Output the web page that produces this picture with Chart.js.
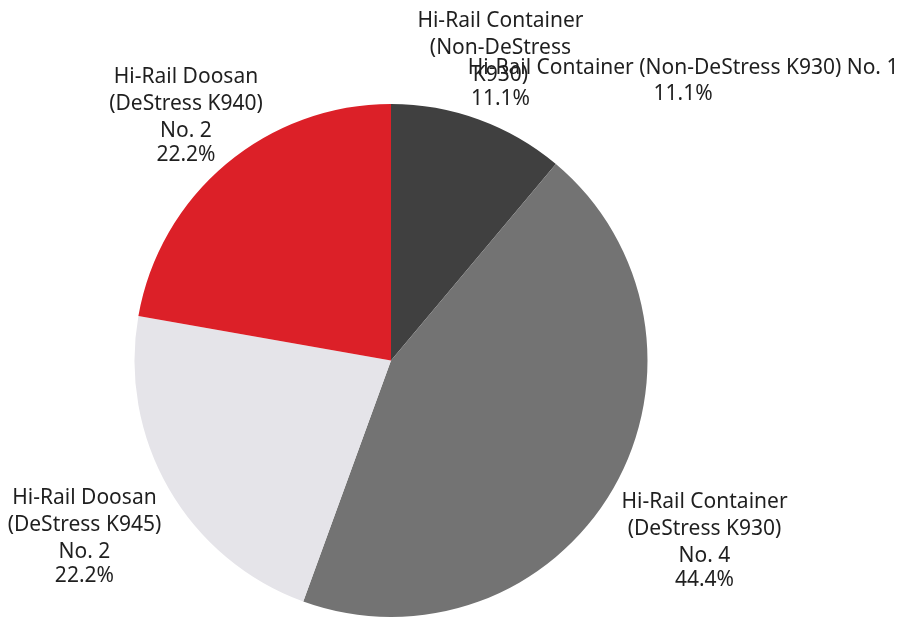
<!DOCTYPE html>
<html>
<head>
<meta charset="utf-8">
<script src="https://cdn.jsdelivr.net/npm/chart.js@4.4.1/dist/chart.umd.min.js"></script>
<style>
  html, body { margin: 0; padding: 0; background: #fff; }
  #wrap { width: 899px; height: 617px; }
</style>
</head>
<body>
<div id="wrap"><canvas id="pie"></canvas></div>
<script>
// data
const categories = [
  'Hi-Rail Container (Non-DeStress K930)',
  'Hi-Rail Container (DeStress K930)',
  'Hi-Rail Doosan (DeStress K945)',
  'Hi-Rail Doosan (DeStress K940)'
];
const counts = [1, 4, 2, 2];
// wrapped name lines as shown on the chart
const nameLines = [
  ['Hi-Rail Container', '(Non-DeStress', 'K930)'],
  ['Hi-Rail Container', '(DeStress K930)'],
  ['Hi-Rail Doosan', '(DeStress K945)'],
  ['Hi-Rail Doosan', '(DeStress K940)']
];
const showCount = [false, true, true, true];
const colors = ['#404040', '#737373', '#e5e4e9', '#dc2028'];

// label distance from centre, per slice
const labelDist = [320, 362, 354, 319];
const FONT = '21px "Noto Sans", "Open Sans", sans-serif';

const total = counts.reduce((a, b) => a + b, 0);
const pct = v => (v / total * 100).toFixed(1) + '%';

const pieLabels = {
  id: 'pieLabels',
  afterDatasetsDraw(chart) {
    const ctx = chart.ctx;
    const arcs = chart.getDatasetMeta(0).data;
    ctx.save();
    ctx.font = FONT;
    ctx.fillStyle = '#1f1f1f';
    ctx.textAlign = 'center';
    ctx.textBaseline = 'middle';
    arcs.forEach((arc, i) => {
      const mid = (arc.startAngle + arc.endAngle) / 2;
      const cx = arc.x + Math.cos(mid) * labelDist[i];
      const cy = arc.y + Math.sin(mid) * labelDist[i];
      const lines = nameLines[i].map(t => [t, 27]);
      if (showCount[i]) lines.push(['No. ' + counts[i], 27]);
      lines.push([pct(counts[i]), 24]);
      let h = 0;
      lines.forEach((l, k) => { if (k) h += l[1]; });
      let y = cy - h / 2;
      lines.forEach((l, k) => {
        if (k) y += l[1];
        ctx.fillText(l[0], cx, y);
      });
      // the single-line duplicate label drawn for the smallest slice
      if (i === 0) {
        const a2 = mid + 26.3 * Math.PI / 180;
        const x2 = arc.x + Math.cos(a2) * 404;
        const y2 = arc.y + Math.sin(a2) * 404;
        ctx.fillText(categories[i] + ' No. ' + counts[i], x2, y2 - 13);
        ctx.fillText(pct(counts[i]), x2, y2 + 13);
      }
    });
    ctx.restore();
  }
};

new Chart(document.getElementById('pie'), {
  type: 'pie',
  data: {
    labels: categories,
    datasets: [{
      data: counts,
      backgroundColor: colors,
      borderWidth: 0
    }]
  },
  options: {
    responsive: true,
    maintainAspectRatio: false,
    animation: false,
    layout: { padding: { left: 134, right: 251, top: 104, bottom: 0 } },
    plugins: {
      legend: { display: false },
      tooltip: { enabled: false }
    }
  },
  plugins: [pieLabels]
});
</script>
</body>
</html>
